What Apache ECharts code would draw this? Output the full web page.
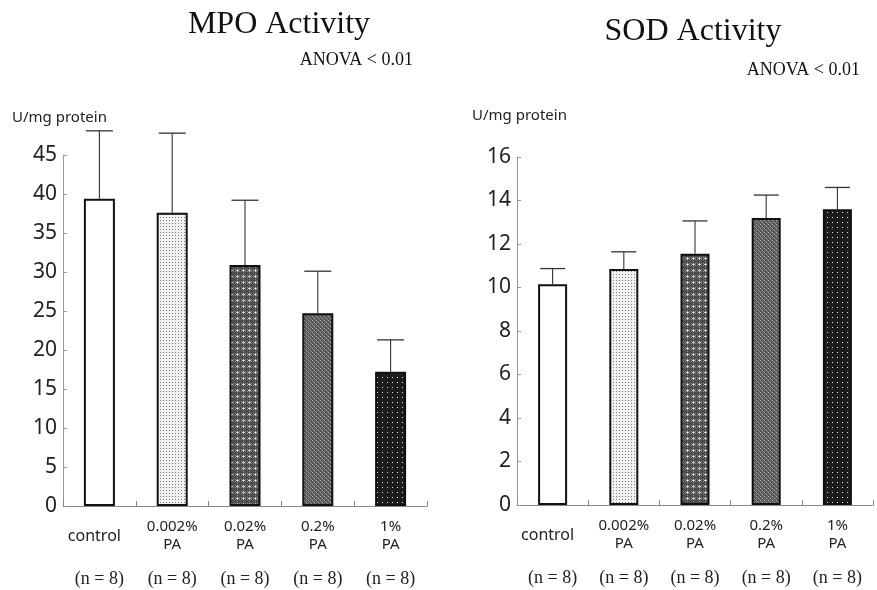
<!DOCTYPE html>
<html>
<head>
<meta charset="utf-8">
<script src="https://cdn.jsdelivr.net/npm/echarts@6/dist/echarts.min.js"></script>
<style>
html,body{margin:0;padding:0;background:#fff;}
#chart{width:877px;height:590px;}
</style>
</head>
<body>
<div id="chart"></div>
<script>
// ---- data ----
const categories = ['control', '0.002%\nPA', '0.02%\nPA', '0.2%\nPA', '1%\nPA'];
const nLabels = ['(n = 8)', '(n = 8)', '(n = 8)', '(n = 8)', '(n = 8)'];
const mpoMean = [39.4, 37.6, 30.9, 24.7, 17.2];
const mpoSD = [8.7, 10.2, 8.3, 5.4, 4.1];
const sodMean = [10.15, 10.85, 11.55, 13.2, 13.6];
const sodSD = [0.72, 0.79, 1.51, 1.05, 1.0];
const mpoTicks = { min: 0, max: 45, interval: 5 };
const sodTicks = { min: 0, max: 16, interval: 2 };
const titles = ['MPO Activity', 'SOD Activity'];
const anovaText = 'ANOVA < 0.01';
const unitText = 'U/mg protein';

// ---- patterns ----
function makePattern(w, h, bg, dots) {
  const c = document.createElement('canvas');
  c.width = w; c.height = h;
  const g = c.getContext('2d');
  g.fillStyle = bg; g.fillRect(0, 0, w, h);
  dots.forEach(d => { g.fillStyle = d[2]; g.fillRect(d[0], d[1], d[3] || 1, d[4] || 1); });
  return { image: c, repeat: 'repeat' };
}
const pat = [
  '#ffffff',
  makePattern(3, 3, '#f2f2f2', [[1, 1, '#777']]),
  makePattern(6, 6, '#4d4d4d', [[1,1,'#888'],[3,3,'#888'],[5,5,'#888'],[1,5,'#888'],[5,1,'#888'],[3,0,'#f0f0f0'],[2,0,'#bbb'],[4,0,'#bbb'],[3,1,'#bbb'],[3,5,'#bbb']]),
  makePattern(4, 4, '#5a5a5a', [[0,0,'#b0b0b0'],[2,2,'#b0b0b0'],[1,1,'#7a7a7a'],[3,3,'#7a7a7a']]),
  makePattern(5, 5, '#1c1c1c', [[2, 2, '#e0e0e0']])
];

function barData(vals) {
  return vals.map((v, i) => ({ value: v, itemStyle: { color: pat[i] } }));
}
function errData(means, sds) {
  return means.map((m, i) => [i, m, +(m + sds[i]).toFixed(3)]);
}
function errRender(capW) {
  return function (params, api) {
    const x = api.value(0), m = api.value(1), t = api.value(2);
    const p0 = api.coord([x, m]);
    const p1 = api.coord([x, t]);
    const h = capW / 2;
    return {
      type: 'group',
      children: [
        { type: 'line', shape: { x1: p0[0], y1: p0[1], x2: p1[0], y2: p1[1] }, style: { stroke: '#333', lineWidth: 1.1 } },
        { type: 'line', shape: { x1: p1[0] - h, y1: p1[1], x2: p1[0] + h, y2: p1[1] }, style: { stroke: '#333', lineWidth: 1.3 } }
      ]
    };
  };
}

const labelFmt = function (v, i) {
  if (v.indexOf('\n') < 0) return '{c|' + v + '}';
  return v.split('\n').map(s => '{a|' + s + '}').join('\n');
};
const catLabel = {
  interval: 0,
  margin: 12,
  color: '#222',
  fontFamily: 'Noto Sans',
  formatter: labelFmt,
  rich: {
    a: { fontFamily: 'Noto Sans', fontSize: 15, lineHeight: 18, color: '#222' },
    c: { fontFamily: 'Noto Sans', fontSize: 16, lineHeight: 36, color: '#222', padding: [0, 10, 0, 0] }
  }
};
const axisLineStyle = { lineStyle: { color: '#888', width: 1 } };

function xAxes(gi) {
  return [
    {
      type: 'category', gridIndex: gi, data: categories,
      axisLine: axisLineStyle,
      axisTick: { show: true, inside: true, length: 5, interval: 0, lineStyle: { color: '#888' } },
      axisLabel: catLabel
    },
    {
      type: 'category', gridIndex: gi, data: nLabels, position: 'bottom', offset: 56,
      axisLine: { show: false }, axisTick: { show: false },
      axisLabel: { interval: 0, margin: 8, fontFamily: 'Liberation Serif', fontSize: 18, color: '#222' }
    }
  ];
}
function yAxis(gi, t) {
  return {
    type: 'value', gridIndex: gi, min: t.min, max: t.max, interval: t.interval,
    axisLine: { show: true, lineStyle: { color: '#999', width: 1 } },
    axisTick: { show: true, inside: true, length: 4, lineStyle: { color: '#999' } },
    splitLine: { show: false },
    axisLabel: { fontFamily: 'Noto Sans', fontSize: 21, color: '#222', margin: 6 }
  };
}

const chart = echarts.init(document.getElementById('chart'), null, { renderer: 'canvas' });
chart.setOption({
  animation: false,
  backgroundColor: '#fff',
  grid: [
    { left: 63, top: 155, width: 364, height: 351 },
    { left: 517, top: 157, width: 356, height: 348 }
  ],
  xAxis: xAxes(0).concat(xAxes(1)),
  yAxis: [yAxis(0, mpoTicks), yAxis(1, sodTicks)],
  graphic: [
    { type: 'text', x: 279, y: 9, style: { text: titles[0], font: '32px "Liberation Serif"', fill: '#111', textAlign: 'center', textVerticalAlign: 'top' } },
    { type: 'text', x: 413, y: 51, style: { text: anovaText, font: '18px "Liberation Serif"', fill: '#111', textAlign: 'right', textVerticalAlign: 'top' } },
    { type: 'text', x: 693, y: 16, style: { text: titles[1], font: '32px "Liberation Serif"', fill: '#111', textAlign: 'center', textVerticalAlign: 'top' } },
    { type: 'text', x: 860, y: 61, style: { text: anovaText, font: '18px "Liberation Serif"', fill: '#111', textAlign: 'right', textVerticalAlign: 'top' } },
    { type: 'text', x: 12, y: 110, style: { text: unitText, font: '15px "Noto Sans"', fill: '#222', textVerticalAlign: 'top' } },
    { type: 'text', x: 472, y: 108, style: { text: unitText, font: '15px "Noto Sans"', fill: '#222', textVerticalAlign: 'top' } }
  ],
  series: [
    {
      type: 'bar', xAxisIndex: 0, yAxisIndex: 0, data: barData(mpoMean), barWidth: 31,
      itemStyle: { borderColor: '#111', borderWidth: 2 }
    },
    {
      type: 'custom', xAxisIndex: 0, yAxisIndex: 0, data: errData(mpoMean, mpoSD),
      renderItem: errRender(27), clip: false, z: 3, encode: { x: 0, y: [1, 2] }
    },
    {
      type: 'bar', xAxisIndex: 2, yAxisIndex: 1, data: barData(sodMean), barWidth: 29,
      itemStyle: { borderColor: '#111', borderWidth: 2 }
    },
    {
      type: 'custom', xAxisIndex: 2, yAxisIndex: 1, data: errData(sodMean, sodSD),
      renderItem: errRender(25), clip: false, z: 3, encode: { x: 0, y: [1, 2] }
    }
  ]
});
</script>
</body>
</html>
